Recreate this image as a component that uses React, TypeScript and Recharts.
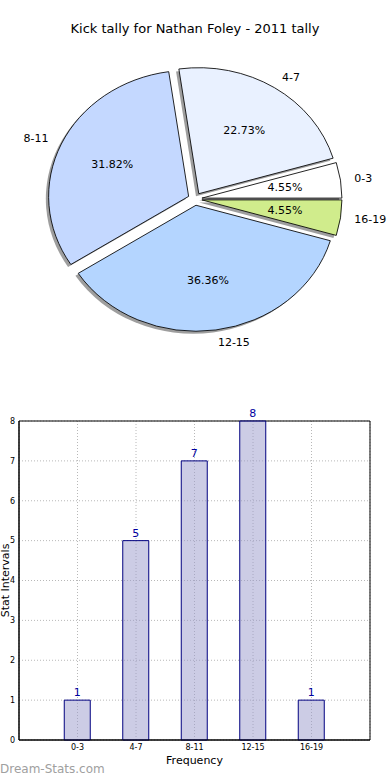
import React from 'react';
import { PieChart, Pie, Sector, BarChart, Bar, XAxis, YAxis, CartesianGrid, LabelList, Label, ReferenceArea } from 'recharts';

const intervals = ['0-3', '4-7', '8-11', '12-15', '16-19'];
const counts = [1, 5, 7, 8, 1];
const sliceColors = ['#ffffff', '#e9f1ff', '#c4d8ff', '#b4d5ff', '#d0ec8c'];
const yTicks = [0, 1, 2, 3, 4, 5, 6, 7, 8];
const xPositions = [1, 2, 3, 4, 5];
const xDomain = [0, 6];

const pieData = intervals.map((name, i) => ({ name, value: counts[i] }));
const barData = intervals.map((name, i) => ({ name, pos: xPositions[i], value: counts[i] }));

const FONT = '"DejaVu Sans", sans-serif';
const RX = 140;
const RY = 126;
const SY = RY / RX;
const EXPLODE = 0.05;
const RAD = Math.PI / 180;

const explodeOffset = (mid: number, r: number) => ({
  dx: EXPLODE * r * Math.cos(mid * RAD),
  dy: -EXPLODE * r * SY * Math.sin(mid * RAD),
});

const renderShadow = (p: any) => {
  const { cx, cy, outerRadius, startAngle, endAngle, midAngle, index } = p;
  const { dx, dy } = explodeOffset(midAngle, outerRadius);
  const ox = cx + dx - 2.8;
  const oy = cy + dy + 2.5;
  return (
    <g key={`sh-${index}`} transform={`translate(${ox},${oy}) scale(1,${SY}) translate(${-cx},${-cy})`}>
      <Sector cx={cx} cy={cy} innerRadius={0} outerRadius={outerRadius} startAngle={startAngle} endAngle={endAngle} fill="#000" fillOpacity={0.38} stroke="none" />
    </g>
  );
};

const renderSlice = (p: any) => {
  const { cx, cy, outerRadius, startAngle, endAngle, midAngle, index, percent, name } = p;
  const { dx, dy } = explodeOffset(midAngle, outerRadius);
  const c = Math.cos(midAngle * RAD);
  const s = Math.sin(midAngle * RAD);
  const px = cx + dx + 0.6 * outerRadius * c;
  const py = cy + dy - 0.6 * outerRadius * SY * s;
  const lx = cx + dx + 1.1 * outerRadius * c;
  const ly = cy + dy - 1.1 * outerRadius * SY * s;
  return (
    <g key={`sl-${index}`}>
      <g transform={`translate(${cx + dx},${cy + dy}) scale(1,${SY}) translate(${-cx},${-cy})`}>
        <Sector cx={cx} cy={cy} innerRadius={0} outerRadius={outerRadius} startAngle={startAngle} endAngle={endAngle} fill={sliceColors[index]} stroke="#000" strokeWidth={0.9} />
      </g>
      <text x={px} y={py} textAnchor="middle" dominantBaseline="central" fontSize={11} fontFamily={FONT} fill="#000">
        {(percent * 100).toFixed(2) + '%'}
      </text>
      <text x={lx} y={ly} textAnchor={c >= 0 ? 'start' : 'end'} dominantBaseline="central" fontSize={11} fontFamily={FONT} fill="#000">
        {name}
      </text>
    </g>
  );
};

const YLabel = (props: any) => {
  const vb = props.viewBox || {};
  const x = 5;
  const y = (vb.y ?? 0) + (vb.height ?? 0) / 2;
  return (
    <text x={x} y={y} transform={`rotate(-90, ${x}, ${y})`} textAnchor="middle" dominantBaseline="central" fontSize={11} fontFamily={FONT} fill="#000">
      Stat Intervals
    </text>
  );
};

const xLabel = (v: number) => {
  const i = xPositions.indexOf(v);
  return i >= 0 ? intervals[i] : '';
};

export default function App() {
  return (
    <div style={{ position: 'absolute', left: 0, top: 0, width: 390, height: 780, background: '#fff', overflow: 'hidden' }}>
      <div style={{ position: 'absolute', left: 0, top: 21, width: 390, textAlign: 'center', fontFamily: FONT, fontSize: 13, color: '#000' }}>
        Kick tally for Nathan Foley - 2011 tally
      </div>
      <div style={{ position: 'absolute', left: 0, top: 0 }}>
        <PieChart width={390} height={390} margin={{ top: 0, right: 0, bottom: 0, left: 0 }}>
          <Pie data={pieData} dataKey="value" nameKey="name" cx={195} cy={199} outerRadius={RX} startAngle={0} endAngle={360}
            fill="none" stroke="none" isAnimationActive={false} label={renderShadow} labelLine={false} />
          <Pie data={pieData} dataKey="value" nameKey="name" cx={195} cy={199} outerRadius={RX} startAngle={0} endAngle={360}
            fill="none" stroke="none" isAnimationActive={false} label={renderSlice} labelLine={false} />
        </PieChart>
      </div>
      <div style={{ position: 'absolute', left: 0, top: 390 }}>
        <BarChart width={390} height={390} data={barData} margin={{ top: 31, right: 20, left: 0, bottom: 10 }}>
          <CartesianGrid stroke="#b8b8b8" strokeDasharray="1 2" />
          <XAxis dataKey="pos" type="number" domain={xDomain} ticks={xPositions} tickFormatter={xLabel} height={30} tickLine={false} tickSize={4} tickMargin={0}
            axisLine={{ stroke: '#000' }} tick={{ fontSize: 8, fontFamily: FONT, fill: '#000' }} interval={0} allowDataOverflow>
            <Label value="Frequency" position="insideBottom" offset={6} style={{ fontSize: 11, fontFamily: FONT, fill: '#000' }} />
          </XAxis>
          <YAxis domain={[0, 8]} ticks={yTicks} width={19} tickLine={false} tickSize={4} tickMargin={0}
            axisLine={{ stroke: '#000' }} tick={{ fontSize: 8, fontFamily: FONT, fill: '#000' }} interval={0}>
            <Label content={<YLabel />} />
          </YAxis>
          <ReferenceArea y1={0} y2={8} fill="none" stroke="#000" strokeWidth={1} ifOverflow="visible" />
          <Bar dataKey="value" barSize={26} fill="#9999cc" fillOpacity={0.5} stroke="#000080" strokeWidth={1} isAnimationActive={false}>
            <LabelList dataKey="value" position="top" offset={4} style={{ fontSize: 11, fontFamily: FONT, fill: '#0000a0' }} />
          </Bar>
        </BarChart>
      </div>
      <div style={{ position: 'absolute', left: 0, top: 762, fontFamily: FONT, fontSize: 12, color: '#a0a0a0' }}>
        Dream-Stats.com
      </div>
    </div>
  );
}
